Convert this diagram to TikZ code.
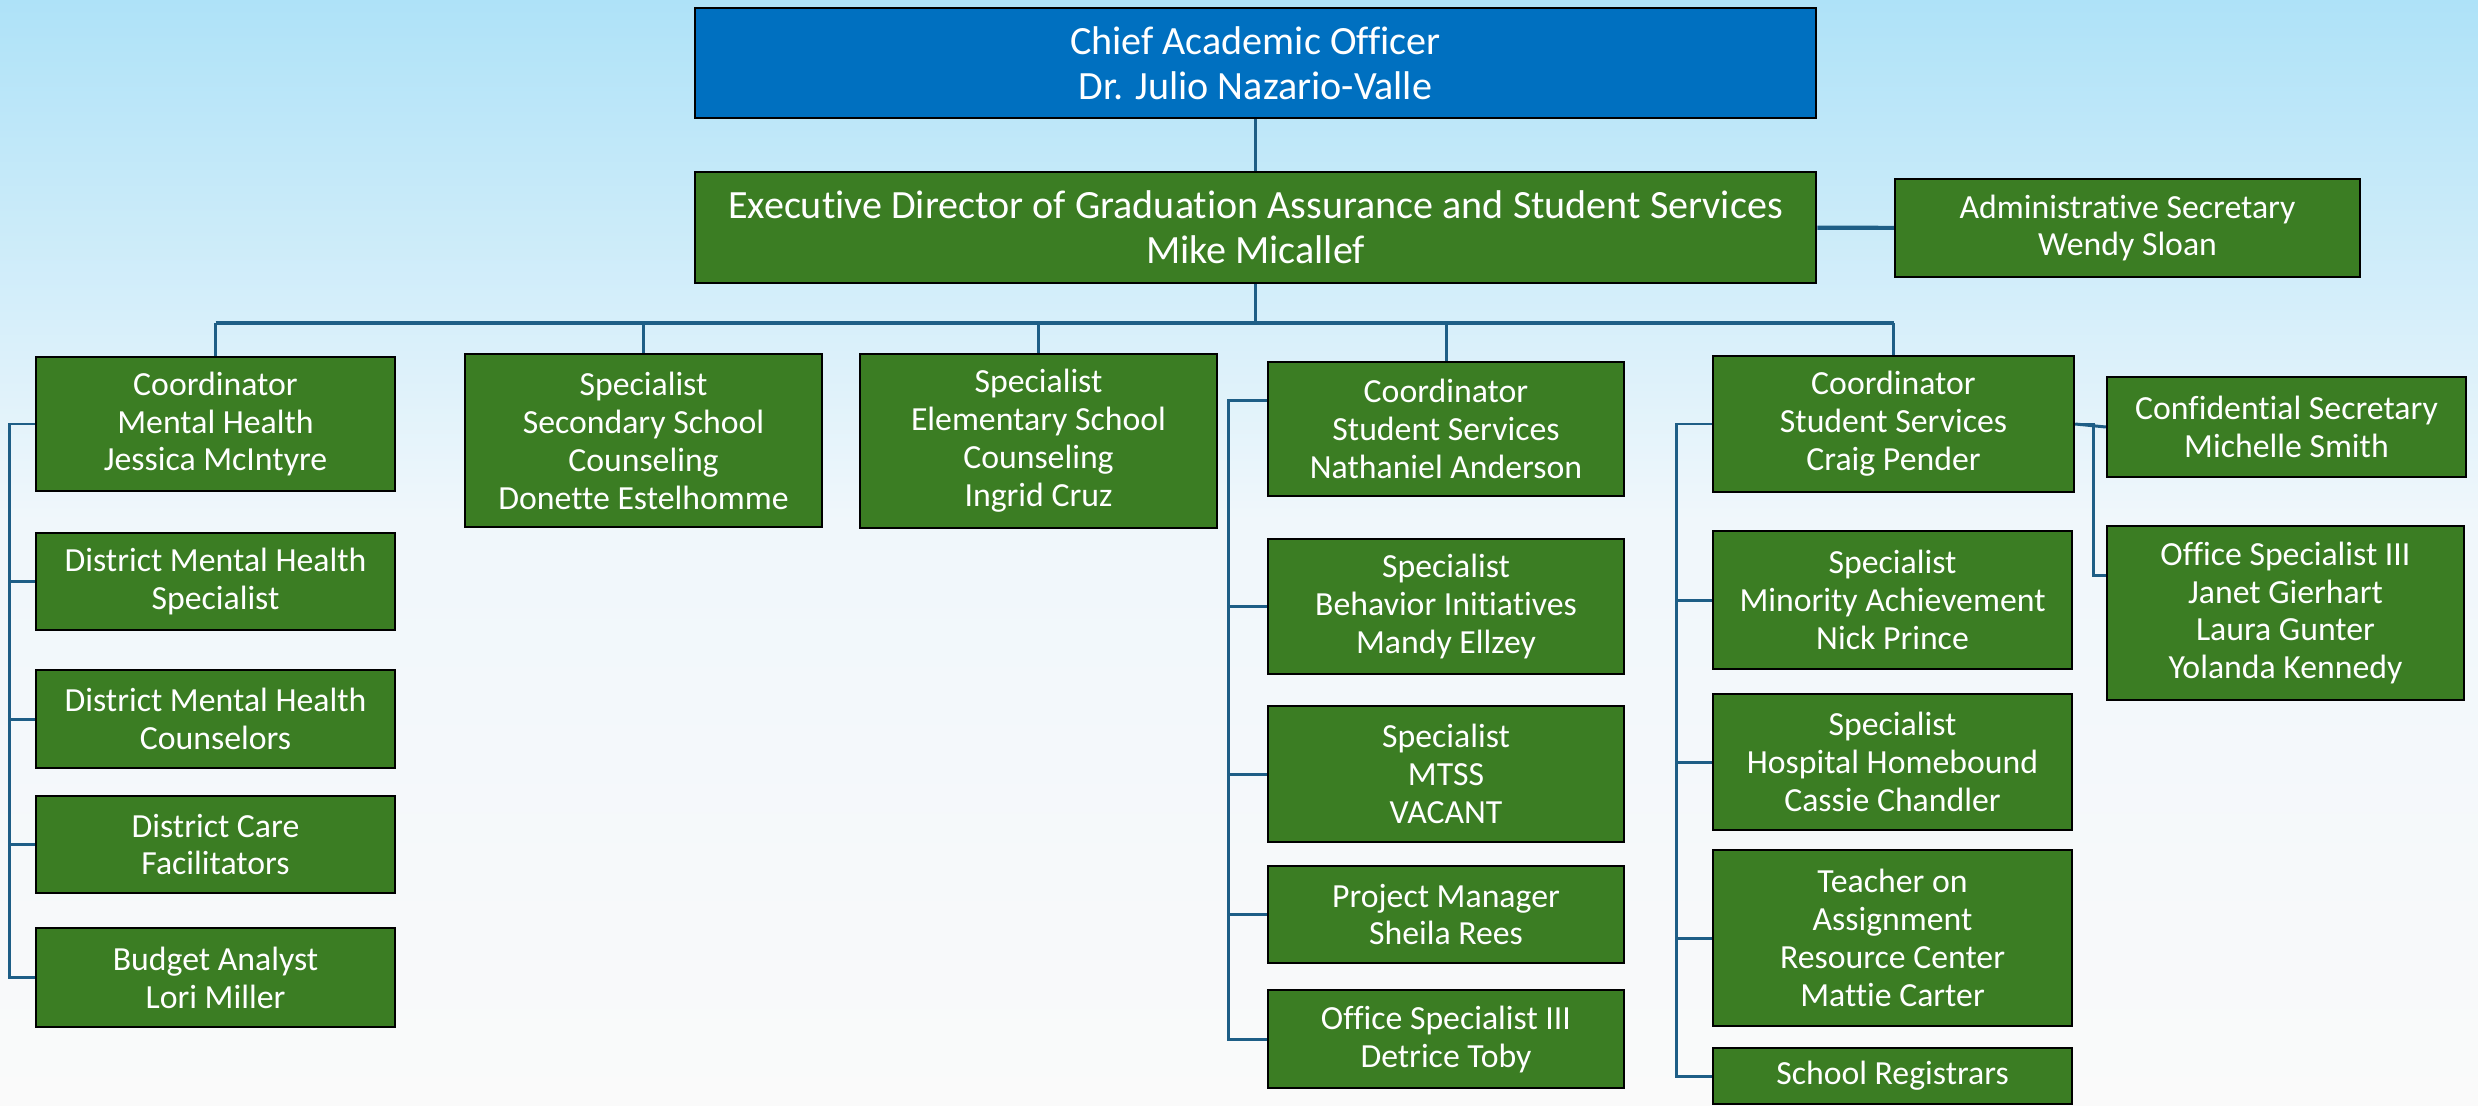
\documentclass[tikz,border=0pt]{standalone}
\usepackage{fontspec}
\setmainfont{Carlito}[Ligatures={NoCommon}]
\usetikzlibrary{calc}

\definecolor{boxgreen}{RGB}{59,125,35}
\definecolor{boxblue}{RGB}{0,112,192}
\definecolor{linkblue}{RGB}{30,94,134}
\definecolor{bgtop}{RGB}{174,226,248}
\definecolor{bgmid}{RGB}{240,247,251}
\definecolor{bgbot}{RGB}{250,250,250}

\begin{document}
\begin{tikzpicture}[
  x=0.01cm, y=-0.01cm,
  box/.style={draw=black, line width=0.6pt, fill=boxgreen, text=white, align=center,
              inner sep=1pt, font=\fontsize{9.6}{10.8}\selectfont},
  headbox/.style={box, font=\fontsize{11.4}{12.8}\selectfont},
  link/.style={draw=linkblue, line width=0.85pt},
  bus/.style={draw=linkblue, line width=1.2pt}
]
  \shade[top color=bgtop, bottom color=bgmid] (0,0) rectangle (2478,520);
  \shade[top color=bgmid, bottom color=bgbot] (0,520) rectangle (2478,1106);
  \useasboundingbox (0,0) rectangle (2478,1106);

  \node[headbox, fill=boxblue, minimum width=11.21cm, minimum height=1.10cm] (cao)  at (1255.5,63)
      {Chief Academic Officer\\Dr. Julio Nazario-Valle};
  \node[headbox, minimum width=11.21cm, minimum height=1.11cm] (exec) at (1255.5,227.5)
      {Executive Director of Graduation Assurance and Student Services\\Mike Micallef};
  \node[box, minimum width=4.65cm, minimum height=0.98cm] (admin) at (2127.5,228)
      {Administrative Secretary\\Wendy Sloan};

  \node[box, minimum width=3.59cm, minimum height=1.34cm] (cmh)  at (215.5,424)
      {Coordinator\\Mental Health\\Jessica McIntyre};
  \node[box, minimum width=3.59cm, minimum height=0.97cm] (dmhs) at (215.5,581.5)
      {District Mental Health\\Specialist};
  \node[box, minimum width=3.59cm, minimum height=0.98cm] (dmhc) at (215.5,719)
      {District Mental Health\\Counselors};
  \node[box, minimum width=3.59cm, minimum height=0.97cm] (dcf)  at (215.5,844.5)
      {District Care\\Facilitators};
  \node[box, minimum width=3.59cm, minimum height=0.99cm] (bud)  at (215.5,977.5)
      {Budget Analyst\\Lori Miller};

  \node[box, minimum width=3.57cm, minimum height=1.73cm] (sec)  at (643.5,440.5)
      {Specialist\\Secondary School\\Counseling\\Donette Estelhomme};
  \node[box, minimum width=3.57cm, minimum height=1.74cm] (elem) at (1038.5,441)
      {Specialist\\Elementary School\\Counseling\\Ingrid Cruz};

  \node[box, minimum width=3.56cm, minimum height=1.34cm] (nat)  at (1446,429)
      {Coordinator\\Student Services\\Nathaniel Anderson};
  \node[box, minimum width=3.56cm, minimum height=1.35cm] (beh)  at (1446,606.5)
      {Specialist\\Behavior Initiatives\\Mandy Ellzey};
  \node[box, minimum width=3.56cm, minimum height=1.36cm] (mtss) at (1446,774)
      {Specialist\\MTSS\\VACANT};
  \node[box, minimum width=3.56cm, minimum height=0.97cm] (pm)   at (1446,914.5)
      {Project Manager\\Sheila Rees};
  \node[box, minimum width=3.56cm, minimum height=0.98cm] (ost)  at (1446,1039)
      {Office Specialist III\\Detrice Toby};

  \node[box, minimum width=3.61cm, minimum height=1.36cm] (crg)  at (1893.5,424)
      {Coordinator\\Student Services\\Craig Pender};
  \node[box, minimum width=3.59cm, minimum height=1.38cm] (mino) at (1892.5,600)
      {Specialist\\Minority Achievement\\Nick Prince};
  \node[box, minimum width=3.59cm, minimum height=1.36cm] (hosp) at (1892.5,762)
      {Specialist\\Hospital Homebound\\Cassie Chandler};
  \node[box, minimum width=3.59cm, minimum height=1.76cm] (toa)  at (1892.5,938)
      {Teacher on\\Assignment\\Resource Center\\Mattie Carter};
  \node[box, minimum width=3.59cm, minimum height=0.56cm] (reg)  at (1892.5,1076)
      {School Registrars};

  \node[box, minimum width=3.59cm, minimum height=1.00cm] (conf)  at (2286.5,427)
      {Confidential Secretary\\Michelle Smith};
  \node[box, minimum width=3.57cm, minimum height=1.74cm] (ospec) at (2285.5,613)
      {Office Specialist III\\Janet Gierhart\\Laura Gunter\\Yolanda Kennedy};

  \coordinate (busy) at (0,323);
  \draw[link] (cao) -- (exec);
  \draw[bus] (exec) -- (admin);
  \draw[link] (exec.south) -- (exec.south |- busy);
  \draw[bus] (cmh.north |- busy) -- (crg.north |- busy);
  \foreach \n in {cmh,sec,elem,nat,crg}
    \draw[link] (\n.north |- busy) -- (\n.north);

  \foreach \n in {dmhs,dmhc,dcf,bud}
    \draw[link] (cmh.west) -- ++(-25,0) |- (\n.west);
  \foreach \n in {beh,mtss,pm,ost}
    \draw[link] ([yshift=0.28cm]nat.west) -- ++(-38,0) |- (\n.west);
  \foreach \n in {mino,hosp,toa,reg}
    \draw[link] (crg.west) -- ++(-35,0) |- (\n.west);

  \draw[link] (crg.east) -- (conf.west);
  \draw[link] (crg.east) -- ++(18,0) |- ([yshift=0.37cm]ospec.west);
\end{tikzpicture}
\end{document}
